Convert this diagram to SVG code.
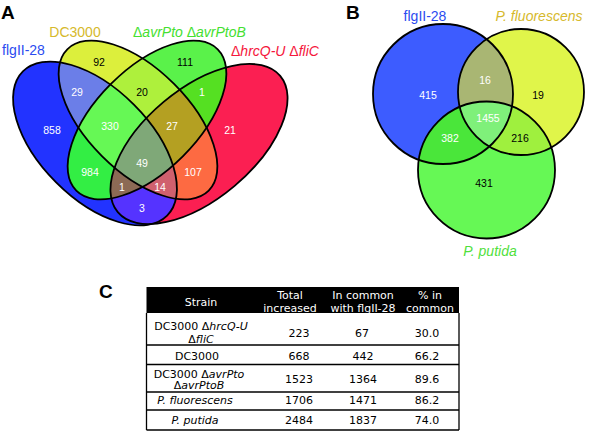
<svg xmlns="http://www.w3.org/2000/svg" width="600" height="431" viewBox="0 0 600 431">
<style>
.ol{fill:none;stroke:#000;stroke-width:1.8}
.lbl{font-family:"Liberation Sans",Arial,sans-serif;font-size:14px}
.pl{font-family:"Liberation Sans",Arial,sans-serif;font-size:19px;font-weight:bold}
.n{font-family:"Liberation Sans",Arial,sans-serif;font-size:10.5px;text-anchor:middle}
.w{fill:#fff}
.k{fill:#000}
.it{font-style:italic}
.t{font-family:"DejaVu Sans",Verdana,sans-serif;font-size:11px;text-anchor:middle;fill:#000}
.th{fill:#fff}
.tl{stroke:#000;stroke-width:1.3;fill:none}
</style>
<defs>
<ellipse id="eB" cx="95" cy="143.5" rx="102" ry="55" transform="rotate(45 95 143.5)"/>
<ellipse id="eY" cx="138" cy="120" rx="100" ry="51" transform="rotate(45 138 120)"/>
<ellipse id="eG" cx="147" cy="120" rx="100" ry="51" transform="rotate(-45 147 120)"/>
<ellipse id="eR" cx="199" cy="144" rx="106" ry="55" transform="rotate(-40 199 144)"/>
<clipPath id="cB"><use href="#eB"/></clipPath>
<clipPath id="cY"><use href="#eY"/></clipPath>
<clipPath id="cG"><use href="#eG"/></clipPath>
<clipPath id="cR"><use href="#eR"/></clipPath>
<circle id="bB" cx="443" cy="94" r="70"/>
<circle id="bY" cx="521" cy="92" r="63"/>
<circle id="bG" cx="486.5" cy="170" r="68.5"/>
<clipPath id="kB"><use href="#bB"/></clipPath>
<clipPath id="kY"><use href="#bY"/></clipPath>
</defs>

<g id="panelA">
<text class="pl" x="1" y="19">A</text>
<g id="A-fills">
<use href="#eB" fill="#2233ff"/>
<use href="#eY" fill="#dcef3c"/>
<use href="#eG" fill="#5af24a"/>
<use href="#eR" fill="#fb1f52"/>
<g clip-path="url(#cB)"><use href="#eY" fill="#6b7ee8"/></g>
<g clip-path="url(#cB)"><use href="#eG" fill="#33ee44"/></g>
<g clip-path="url(#cB)"><use href="#eR" fill="#5533ff"/></g>
<g clip-path="url(#cY)"><use href="#eG" fill="#aef03c"/></g>
<g clip-path="url(#cY)"><use href="#eR" fill="#fd6a42"/></g>
<g clip-path="url(#cG)"><use href="#eR" fill="#55e022"/></g>
<g clip-path="url(#cB)"><g clip-path="url(#cY)"><use href="#eG" fill="#66f855"/></g></g>
<g clip-path="url(#cB)"><g clip-path="url(#cY)"><use href="#eR" fill="#d0606e"/></g></g>
<g clip-path="url(#cB)"><g clip-path="url(#cG)"><use href="#eR" fill="#8c6a55"/></g></g>
<g clip-path="url(#cY)"><g clip-path="url(#cG)"><use href="#eR" fill="#b4a022"/></g></g>
<g clip-path="url(#cB)"><g clip-path="url(#cY)"><g clip-path="url(#cG)"><use href="#eR" fill="#7fa878"/></g></g></g>
</g>
<g id="A-outlines">
<use href="#eB" class="ol"/>
<use href="#eY" class="ol"/>
<use href="#eG" class="ol"/>
<use href="#eR" class="ol"/>
</g>
<g id="A-labels">
<text class="lbl" x="23.5" y="55" text-anchor="middle" fill="#2a4bf0">flgII-28</text>
<text class="lbl" x="75" y="37" text-anchor="middle" fill="#d6b92c">DC3000</text>
<text class="lbl" x="133" y="37" fill="#44e030">Δ<tspan class="it">avrPto</tspan> Δ<tspan class="it">avrPtoB</tspan></text>
<text class="lbl" x="231" y="56" fill="#f5173c">Δ<tspan class="it">hrcQ-U</tspan> Δ<tspan class="it">fliC</tspan></text>
</g>
<g id="A-numbers">
<text class="n w" x="52" y="134">858</text>
<text class="n w" x="77" y="96">29</text>
<text class="n k" x="99" y="66">92</text>
<text class="n k" x="142" y="96">20</text>
<text class="n k" x="185" y="66">111</text>
<text class="n w" x="202" y="96">1</text>
<text class="n w" x="110" y="130">330</text>
<text class="n w" x="172" y="130">27</text>
<text class="n w" x="230" y="134">21</text>
<text class="n w" x="90" y="176">984</text>
<text class="n w" x="142" y="167">49</text>
<text class="n w" x="193" y="176">107</text>
<text class="n w" x="122" y="191">1</text>
<text class="n w" x="160" y="191">14</text>
<text class="n w" x="142" y="212">3</text>
</g>
</g>

<g id="panelB">
<text class="pl" x="346" y="19">B</text>
<g id="B-fills">
<use href="#bB" fill="#3d5cff"/>
<use href="#bY" fill="#e0f54a"/>
<use href="#bG" fill="#66f855"/>
<g clip-path="url(#kB)"><use href="#bY" fill="#a9b673"/></g>
<g clip-path="url(#kB)"><use href="#bG" fill="#4ae63a"/></g>
<g clip-path="url(#kY)"><use href="#bG" fill="#9ff03e"/></g>
<g clip-path="url(#kB)"><g clip-path="url(#kY)"><use href="#bG" fill="#7ff07a"/></g></g>
</g>
<g id="B-outlines">
<use href="#bB" class="ol"/>
<use href="#bY" class="ol"/>
<use href="#bG" class="ol"/>
</g>
<g id="B-labels">
<text class="lbl" x="425" y="20.5" text-anchor="middle" fill="#2a4bf0">flgII-28</text>
<text class="lbl it" x="539" y="21" text-anchor="middle" fill="#d6b92c">P. fluorescens</text>
<text class="lbl it" x="490" y="256" text-anchor="middle" fill="#50e03c">P. putida</text>
</g>
<g id="B-numbers">
<text class="n w" x="428" y="99">415</text>
<text class="n w" x="485" y="84">16</text>
<text class="n k" x="538" y="99">19</text>
<text class="n w" x="488" y="122">1455</text>
<text class="n w" x="450" y="142">382</text>
<text class="n k" x="520" y="142">216</text>
<text class="n k" x="484" y="187">431</text>
</g>
</g>

<g id="panelC">
<text class="pl" x="99" y="298">C</text>
<rect x="146.5" y="287" width="312.5" height="26" fill="#000"/>
<g id="C-grid">
<line class="tl" x1="146.5" y1="313" x2="146.5" y2="430"/>
<line class="tl" x1="459" y1="313" x2="459" y2="430"/>
<line class="tl" x1="146.5" y1="345" x2="459" y2="345"/>
<line class="tl" x1="146.5" y1="364.5" x2="459" y2="364.5"/>
<line class="tl" x1="146.5" y1="392" x2="459" y2="392"/>
<line class="tl" x1="146.5" y1="410" x2="459" y2="410"/>
<line class="tl" x1="146.5" y1="430" x2="459" y2="430"/>
</g>
<g id="C-header">
<text class="t th" x="201" y="306">Strain</text>
<text class="t th" x="290" y="299">Total</text>
<text class="t th" x="290" y="311.5">increased</text>
<text class="t th" x="363" y="299">In common</text>
<text class="t th" x="363" y="311.5">with flgII-28</text>
<text class="t th" x="430" y="299">% in</text>
<text class="t th" x="430" y="311.5">common</text>
</g>
<g id="C-rows">
<text class="t" x="201" y="330">DC3000 Δ<tspan class="it">hrcQ-U</tspan></text>
<text class="t" x="201" y="343">Δ<tspan class="it">fliC</tspan></text>
<text class="t" x="299" y="336.5">223</text>
<text class="t" x="362" y="336.5">67</text>
<text class="t" x="427" y="336.5">30.0</text>
<text class="t" x="197" y="360">DC3000</text>
<text class="t" x="299" y="360">668</text>
<text class="t" x="363" y="360">442</text>
<text class="t" x="427" y="360">66.2</text>
<text class="t" x="199" y="377.5">DC3000 Δ<tspan class="it">avrPto</tspan></text>
<text class="t" x="199" y="389">Δ<tspan class="it">avrPtoB</tspan></text>
<text class="t" x="299" y="383">1523</text>
<text class="t" x="363" y="383">1364</text>
<text class="t" x="427" y="383">89.6</text>
<text class="t it" x="195" y="404">P. fluorescens</text>
<text class="t" x="299" y="404">1706</text>
<text class="t" x="363" y="404">1471</text>
<text class="t" x="427" y="404">86.2</text>
<text class="t it" x="195" y="424">P. putida</text>
<text class="t" x="299" y="424">2484</text>
<text class="t" x="363" y="424">1837</text>
<text class="t" x="427" y="424">74.0</text>
</g>
</g>
</svg>
